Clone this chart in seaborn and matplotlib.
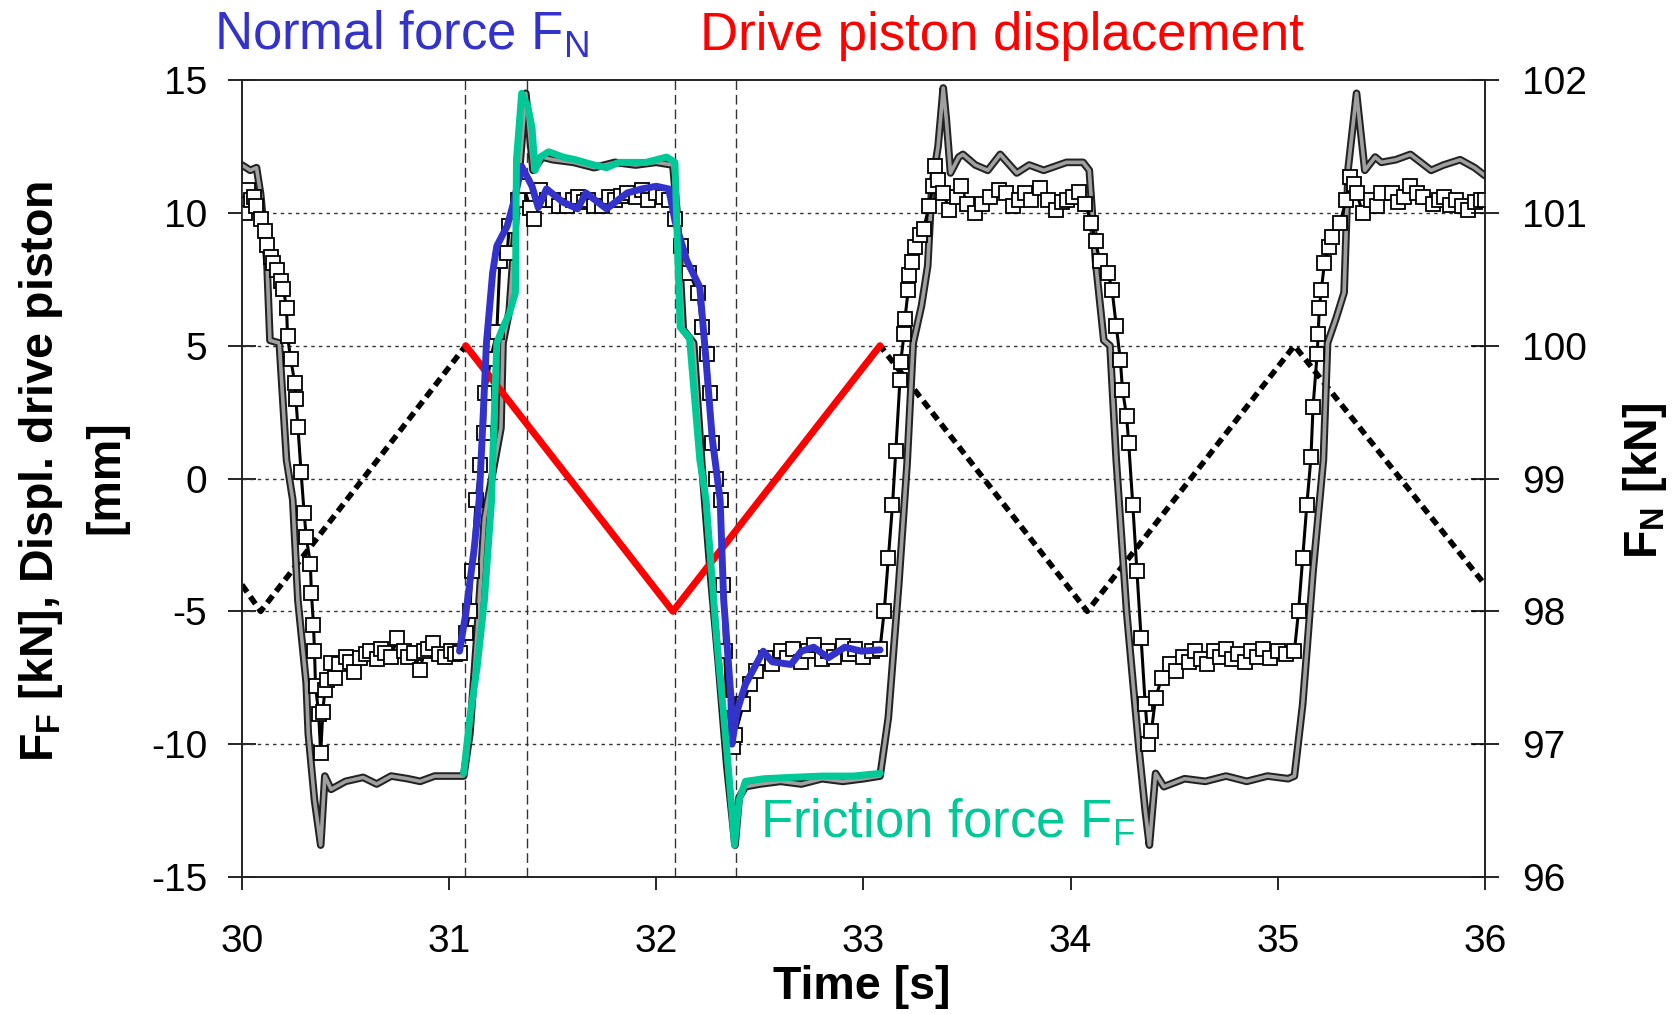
import numpy as np
import pandas as pd
import seaborn as sns
import matplotlib.pyplot as plt
import matplotlib.patheffects as pe

# drive piston displacement [mm], triangle vertices
disp_t = [30.0, 30.09, 31.08, 32.08, 33.08, 34.08, 35.08, 36.0]
disp_mm = [-4.0, -5.0, 5.0, -5.0, 5.0, -5.0, 5.0, -4.0]

# highlighted displacement stroke (red)
disp_hl_t = [31.08, 32.08, 33.08]
disp_hl_mm = [5.0, -5.0, 5.0]

# friction force F_F [kN], full record (grey band)
ff_t = [30.00, 30.04, 30.07, 30.09, 30.12, 30.135, 30.18, 30.215, 30.245, 30.27,
        30.31, 30.32, 30.35, 30.38, 30.40, 30.43, 30.50, 30.585, 30.65, 30.72,
        30.80, 30.86, 30.93, 31.00, 31.07, 31.10, 31.135, 31.17, 31.25, 31.26,
        31.29, 31.33, 31.37, 31.405, 31.45, 31.50, 31.60, 31.70, 31.80, 31.90,
        32.00, 32.08, 32.10, 32.13, 32.18, 32.22, 32.26, 32.30, 32.34, 32.38,
        32.40, 32.43, 32.50, 32.60, 32.70, 32.80, 32.90, 33.00, 33.08, 33.12,
        33.17, 33.21, 33.24, 33.28, 33.31, 33.33, 33.36, 33.385, 33.40, 33.42,
        33.46, 33.48, 33.54, 33.60, 33.66, 33.74, 33.80, 33.87, 33.98, 34.06,
        34.09, 34.12, 34.16, 34.19, 34.22, 34.27, 34.33, 34.36, 34.38, 34.41,
        34.45, 34.55, 34.65, 34.75, 34.85, 34.95, 35.05, 35.08, 35.12, 35.17,
        35.22, 35.24, 35.28, 35.32, 35.34, 35.38, 35.42, 35.47, 35.50, 35.57,
        35.64, 35.74, 35.80, 35.88, 35.95, 36.00]
ff_kn = [11.8, 11.6, 11.7, 10.7, 8.2, 5.2, 5.1, 0.7, -0.8, -4.6,
         -7.7, -9.6, -12.1, -13.8, -11.2, -11.7, -11.4, -11.25, -11.5, -11.2,
         -11.3, -11.4, -11.2, -11.2, -11.2, -9.6, -5.8, -1.5, 1.9, 5.1,
         6.3, 10.7, 14.5, 11.6, 12.1, 12.0, 11.9, 11.7, 11.9, 11.8,
         11.9, 11.8, 10.0, 5.6, 5.1, 0.5, -3.5, -7.0, -10.8, -13.8,
         -12.0, -11.6, -11.5, -11.4, -11.5, -11.3, -11.4, -11.3, -11.2, -9.0,
         -4.0, 0.5, 5.1, 6.5, 8.0, 11.0, 12.5, 14.7, 13.5, 11.5,
         12.1, 12.2, 11.8, 11.6, 12.2, 11.5, 11.8, 11.6, 11.9, 11.9,
         11.6, 8.2, 5.2, 5.0, 0.7, -5.0, -10.2, -12.5, -13.8, -11.1,
         -11.6, -11.3, -11.4, -11.2, -11.4, -11.2, -11.3, -11.2, -8.5, -3.5,
         0.7, 5.1, 6.0, 7.0, 11.7, 14.5, 11.6, 12.1, 11.9, 12.0,
         12.2, 11.6, 11.8, 12.0, 11.7, 11.4]

# friction force, highlighted cycle (green)
fric_t = [31.07, 31.10, 31.135, 31.17, 31.205, 31.21, 31.23, 31.26, 31.29, 31.32,
          31.325, 31.35, 31.38, 31.40, 31.415, 31.44, 31.48, 31.55, 31.61, 31.70,
          31.76, 31.82, 31.95, 32.05, 32.09, 32.105, 32.115, 32.16, 32.21, 32.24,
          32.29, 32.34, 32.365, 32.377, 32.39, 32.40, 32.43, 32.52, 32.65, 32.80,
          32.95, 33.08]
fric_kn = [-11.1, -9.0, -7.1, -4.6, -0.8, 0.7, 5.1, 5.7, 6.2, 7.0,
           12.0, 14.5, 14.0, 13.2, 11.6, 12.1, 12.3, 12.1, 12.0, 11.8,
           11.7, 11.9, 11.9, 12.1, 11.9, 8.0, 5.7, 5.3, 0.7, -0.8,
           -5.9, -10.2, -12.5, -13.8, -12.8, -12.1, -11.4, -11.3, -11.25, -11.2,
           -11.2, -11.1]

# normal force F_N [kN], full record (squares)
fn_t = [30.00, 30.015, 30.03, 30.045, 30.06, 30.07, 30.09, 30.11, 30.12, 30.14,
        30.15, 30.17, 30.19, 30.20, 30.215, 30.22, 30.235, 30.255, 30.26, 30.27,
        30.285, 30.30, 30.31, 30.33, 30.335, 30.345, 30.35, 30.355, 30.37, 30.38,
        30.39, 30.40, 30.41, 30.43, 30.45, 30.47, 30.50, 30.52, 30.54, 30.57,
        30.60, 30.62, 30.65, 30.67, 30.69, 30.72, 30.75, 30.78, 30.80, 30.83,
        30.86, 30.88, 30.90, 30.92, 30.95, 30.98, 31.01, 31.03, 31.05, 31.08,
        31.10, 31.11, 31.13, 31.15, 31.17, 31.175, 31.20, 31.23, 31.245, 31.28,
        31.29, 31.33, 31.36, 31.39, 31.41, 31.44, 31.47, 31.50, 31.53, 31.57,
        31.60, 31.62, 31.65, 31.67, 31.70, 31.74, 31.77, 31.80, 31.83, 31.86,
        31.90, 31.93, 31.96, 32.00, 32.03, 32.06, 32.09, 32.12, 32.16, 32.20,
        32.22, 32.245, 32.26, 32.27, 32.29, 32.31, 32.32, 32.33, 32.34, 32.37,
        32.38, 32.42, 32.45, 32.48, 32.53, 32.56, 32.60, 32.63, 32.66, 32.70,
        32.73, 32.76, 32.80, 32.83, 32.86, 32.90, 32.93, 32.96, 33.00, 33.04,
        33.08, 33.10, 33.12, 33.14, 33.156, 33.176, 33.18, 33.196, 33.20, 33.216,
        33.22, 33.235, 33.25, 33.275, 33.29, 33.317, 33.335, 33.345, 33.36, 33.385,
        33.415, 33.45, 33.47, 33.50, 33.54, 33.57, 33.61, 33.655, 33.69, 33.72,
        33.75, 33.78, 33.81, 33.85, 33.89, 33.93, 33.96, 33.98, 34.01, 34.04,
        34.07, 34.10, 34.12, 34.14, 34.18, 34.20, 34.22, 34.24, 34.25, 34.27,
        34.28, 34.30, 34.32, 34.34, 34.36, 34.375, 34.39, 34.41, 34.44, 34.48,
        34.51, 34.54, 34.57, 34.60, 34.63, 34.66, 34.69, 34.72, 34.75, 34.78,
        34.81, 34.84, 34.87, 34.90, 34.93, 34.96, 35.00, 35.04, 35.08, 35.10,
        35.12, 35.14, 35.16, 35.17, 35.19, 35.195, 35.20, 35.21, 35.225, 35.245,
        35.26, 35.30, 35.33, 35.35, 35.37, 35.38, 35.41, 35.45, 35.48, 35.50,
        35.55, 35.58, 35.61, 35.64, 35.67, 35.70, 35.75, 35.78, 35.80, 35.83,
        35.86, 35.89, 35.92, 35.95, 35.98, 36.00]
fn_kn = [101.07, 101.0, 101.17, 101.1, 101.12, 101.05, 100.95, 100.86, 100.76, 100.67,
         100.62, 100.57, 100.49, 100.43, 100.28, 100.07, 99.9, 99.72, 99.6, 99.39,
         99.05, 98.74, 98.56, 98.36, 98.14, 97.9, 97.7, 97.44, 97.23, 96.93,
         97.24, 97.41, 97.48, 97.61, 97.5, 97.6, 97.66, 97.62, 97.54, 97.65,
         97.68, 97.7, 97.64, 97.72, 97.69, 97.66, 97.8, 97.7, 97.66, 97.69,
         97.56, 97.7, 97.72, 97.76, 97.68, 97.66, 97.7, 97.68, 97.69, 97.84,
         98.0, 98.3, 98.84, 99.1, 99.34, 99.64, 99.9, 100.1, 100.64, 100.7,
         100.9, 101.1, 101.2, 101.04, 100.95, 101.17, 101.1, 101.1, 101.05, 101.05,
         101.1, 101.12, 101.08, 101.1, 101.05, 101.05, 101.12, 101.1, 101.13, 101.15,
         101.12, 101.17, 101.1, 101.15, 101.12, 101.1, 100.95, 100.75, 100.55, 100.4,
         100.14, 99.94, 99.64, 99.27, 99.0, 98.84, 98.2, 97.7, 97.3, 96.98,
         97.07, 97.3, 97.45, 97.55, 97.65, 97.6, 97.7, 97.65, 97.72, 97.62,
         97.7, 97.75, 97.64, 97.7, 97.66, 97.74, 97.68, 97.72, 97.66, 97.7,
         97.72, 98.0, 98.4, 98.8, 99.21, 99.74, 99.88, 100.09, 100.2, 100.42,
         100.53, 100.63, 100.74, 100.83, 100.88, 101.05, 101.2, 101.35, 101.25, 101.15,
         101.02, 101.12, 101.2, 101.07, 101.0, 101.07, 101.12, 101.17, 101.15, 101.05,
         101.1, 101.15, 101.1, 101.19, 101.1, 101.02, 101.08, 101.1, 101.12, 101.16,
         101.07, 100.92, 100.79, 100.64, 100.55, 100.42, 100.15, 99.89, 99.67, 99.47,
         99.27, 98.8, 98.3, 97.8, 97.3, 97.0, 97.1, 97.35, 97.5, 97.6,
         97.55, 97.66, 97.62, 97.7, 97.64, 97.6, 97.7, 97.66, 97.72, 97.64,
         97.68, 97.62, 97.7, 97.66, 97.72, 97.65, 97.7, 97.68, 97.7, 98.0,
         98.4, 98.8, 99.16, 99.54, 99.94, 100.09, 100.28, 100.42, 100.62, 100.74,
         100.82, 100.92, 101.1, 101.27, 101.22, 101.15, 101.0, 101.1, 101.05, 101.15,
         101.15, 101.08, 101.12, 101.2, 101.15, 101.12, 101.07, 101.1, 101.12, 101.06,
         101.1, 101.05, 101.02, 101.08, 101.1, 101.1]

# normal force, highlighted cycle (blue)
fn_hl_t = [31.05, 31.08, 31.12, 31.145, 31.165, 31.18, 31.21, 31.23, 31.28, 31.31,
           31.35, 31.40, 31.43, 31.47, 31.55, 31.62, 31.66, 31.76, 31.86, 31.93,
           32.00, 32.06, 32.09, 32.147, 32.21, 32.24, 32.27, 32.308, 32.325, 32.36,
           32.365, 32.39, 32.43, 32.516, 32.56, 32.65, 32.70, 32.76, 32.83, 32.91,
           32.99, 33.08]
fn_hl_kn = [97.7, 97.98, 98.46, 98.84, 99.5, 100.02, 100.55, 100.75, 100.9, 101.07,
            101.35, 101.2, 101.04, 101.18, 101.08, 101.03, 101.15, 101.03, 101.15, 101.18,
            101.2, 101.18, 100.94, 100.64, 100.44, 99.89, 99.3, 98.84, 98.09, 97.36,
            97.0, 97.25, 97.45, 97.7, 97.62, 97.6, 97.7, 97.73, 97.65, 97.73,
            97.7, 97.71]

# cycle marker lines
marker_t = [31.077, 31.375, 32.09, 32.385]

x_ticks = [30, 31, 32, 33, 34, 35, 36]
left_ticks = [-15, -10, -5, 0, 5, 10, 15]
right_ticks = [96, 97, 98, 99, 100, 101, 102]

blue = '#3333cc'
red = '#ff0000'
green = '#00c896'

sns.set_style('ticks')
plt.rcParams['font.family'] = ['Liberation Sans', 'DejaVu Sans']
plt.rcParams['mathtext.fontset'] = 'custom'
plt.rcParams['mathtext.rm'] = 'Liberation Sans'
plt.rcParams['mathtext.it'] = 'Liberation Sans:italic'
plt.rcParams['mathtext.bf'] = 'Liberation Sans:bold'
plt.rcParams['axes.unicode_minus'] = False
plt.rcParams['text.color'] = 'black'
plt.rcParams['xtick.color'] = 'black'
plt.rcParams['ytick.color'] = 'black'

fig = plt.figure(figsize=(16.77, 10.14), dpi=100)
ax = fig.add_axes([0.1443, 0.1351, 0.7412, 0.786])
ax2 = ax.twinx()
ax2.set_ylim(96, 102)
ax.set_xlim(30, 36)
ax.set_ylim(-15, 15)

disp = pd.DataFrame({'t': disp_t, 'v': disp_mm})
disp_hl = pd.DataFrame({'t': disp_hl_t, 'v': disp_hl_mm})
ff = pd.DataFrame({'t': ff_t, 'v': ff_kn})
fric = pd.DataFrame({'t': fric_t, 'v': fric_kn})
fn = pd.DataFrame({'t': fn_t, 'v': fn_kn})
fn_hl = pd.DataFrame({'t': fn_hl_t, 'v': fn_hl_kn})

# grid and cycle markers
for y in [-10, -5, 0, 5, 10]:
    ax.axhline(y, color='#333333', lw=1, ls=(0, (2.5, 3)), zorder=1)
for t in marker_t:
    ax.axvline(t, color='#333333', lw=1, ls=(0, (7, 3.5)), zorder=1)

# background records
sns.lineplot(data=disp, x='t', y='v', ax=ax, sort=False, estimator=None,
             color='black', linewidth=4, zorder=2)
ax.lines[-1].set_linestyle((0, (1.6, 1.0)))
sns.lineplot(data=ff, x='t', y='v', ax=ax, sort=False, estimator=None,
             color='#a0a0a0', linewidth=2.6, zorder=2,
             path_effects=[pe.Stroke(linewidth=5.5, foreground='#222222'), pe.Normal()])
sns.lineplot(data=fn, x='t', y='v', ax=ax, sort=False, estimator=None,
             color='black', linewidth=2.2, marker='s', markersize=9.5,
             markerfacecolor='white', markeredgecolor='black', markeredgewidth=1.3,
             zorder=3, transform=ax2.transData)

# highlighted cycle
sns.lineplot(data=disp_hl, x='t', y='v', ax=ax, sort=False, estimator=None,
             color=red, linewidth=5, zorder=4)
sns.lineplot(data=fn_hl, x='t', y='v', ax=ax, sort=False, estimator=None,
             color=blue, linewidth=5, zorder=5, transform=ax2.transData)
sns.lineplot(data=fric, x='t', y='v', ax=ax, sort=False, estimator=None,
             color=green, linewidth=5, zorder=6)

ax.set_xlim(30, 36)
ax.set_ylim(-15, 15)
ax2.set_ylim(96, 102)
ax.set_xlabel('')
ax.set_ylabel('')

ax.set_xticks(x_ticks)
ax.set_yticks(left_ticks)
ax2.set_yticks(right_ticks)
ax.tick_params(axis='y', direction='inout', length=20, width=1.2, pad=15, labelsize=28,
               colors='black')
ax.tick_params(axis='x', direction='out', length=9.5, width=1.2, pad=24, labelsize=28,
               colors='black')
ax2.tick_params(axis='y', direction='inout', length=20, width=1.2, pad=17, labelsize=28,
                colors='black')
for a in (ax, ax2):
    for s in a.spines.values():
        s.set_visible(True)
        s.set_color('#222222')
        s.set_linewidth(1.2)

# labels
lab = dict(fontsize=33.5, fontweight='bold', ha='center', va='center', rotation=90,
           color='black')
fig.text(0.0244, 0.535, r'$\mathbf{F_F}$ [kN], Displ. drive piston', **lab)
fig.text(0.0632, 0.529, '[mm]', **lab)
fig.text(0.981, 0.526, r'$\mathbf{F_N}$ [kN]', **lab)
fig.text(0.514, 0.027, 'Time [s]', fontsize=33.5, fontweight='bold', ha='center',
         va='center', color='black')

fig.text(0.1276, 0.9507, r'Normal force F$_\mathrm{N}$', color=blue, fontsize=38, va='baseline')
fig.text(0.4174, 0.9507, 'Drive piston displacement', color=red, fontsize=38, va='baseline')
fig.text(0.4532, 0.1736, r'Friction force F$_\mathrm{F}$', color=green, fontsize=38, va='baseline')

fig.savefig('out.png', dpi=100)
